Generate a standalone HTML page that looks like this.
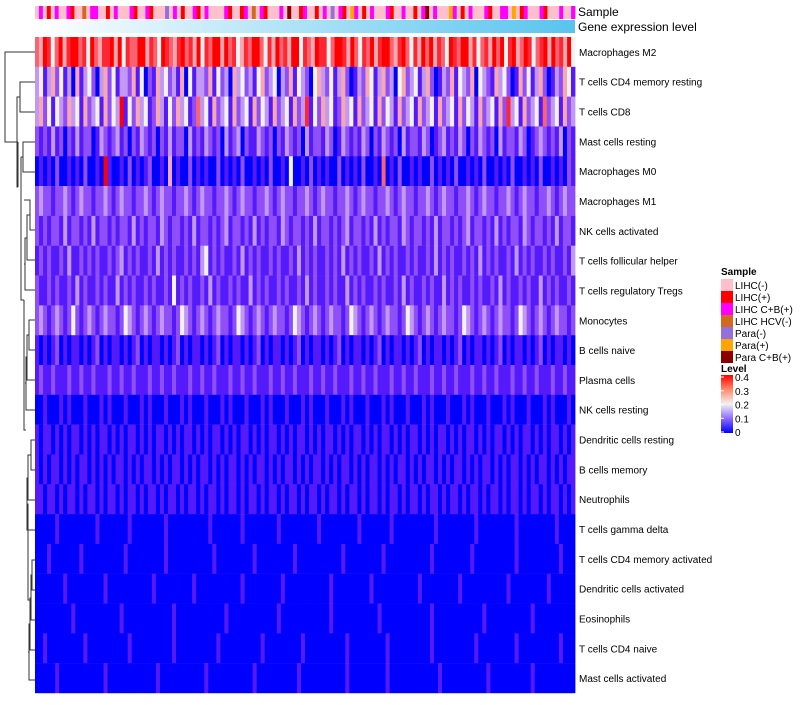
<!DOCTYPE html>
<html><head><meta charset="utf-8"><style>
body{margin:0;background:#fff;font-family:"Liberation Sans",sans-serif;}
svg text{font-family:"Liberation Sans",sans-serif;}
</style></head><body>
<svg id="c" width="800" height="700" xmlns="http://www.w3.org/2000/svg">
<defs>
<linearGradient id="gexp" x1="0" x2="1" y1="0" y2="0"><stop offset="0" stop-color="#ffffff"/><stop offset="1" stop-color="#58c4ee"/></linearGradient>
<linearGradient id="lvl" x1="0" x2="0" y1="1" y2="0"><stop offset="0" stop-color="#0000ff"/><stop offset="0.25" stop-color="#8c6cff"/><stop offset="0.5" stop-color="#f2f2f2"/><stop offset="0.75" stop-color="#ff8a6c"/><stop offset="1" stop-color="#ff0000"/></linearGradient>
</defs>
<g id="dend" stroke="#333" stroke-width="1" fill="none">
<path d="M35 52H5V142H18"/>
<path d="M35 82H20V112H35M20 97H17V187H18"/>
<path d="M35 142H23V172H35M23 157H21"/>
<path d="M21 157V300H24M24 200H30V230H35M30 215H27V260H35M27 238H25V290H35M25 264H24"/>
<path d="M24 300V430H26M35 320H29V350H35M29 335H27V380H35M27 357H26V410H35M26 383H25"/>
<path d="M35 440H31V470H35M31 455H28V500H35M28 478H27V530H35M27 504H28V600H30"/>
<path d="M35 560H32V590H35M32 575H31V620H35M31 598H30V650H35M30 624H29V680H35M29 652H28"/>
<path d="M18 142V187M17 97V142"/>
</g>
<g id="cells"></g>
<rect x="35" y="20" width="540" height="13" fill="url(#gexp)"/>
<text x="578" y="16" font-size="12">Sample</text>
<text x="578" y="31" font-size="12">Gene expression level</text>
<g id="labels" font-size="10"></g>
<g font-size="10">
<text x="721" y="275" font-weight="bold">Sample</text>
<g id="legitems"></g>
<text x="721" y="372" font-weight="bold">Level</text>
<rect x="721" y="375" width="12" height="58" fill="url(#lvl)"/>
<g id="lvlticks"></g>
</g>
</svg>
<script>
const rowNames=["Macrophages M2","T cells CD4 memory resting","T cells CD8","Mast cells resting","Macrophages M0","Macrophages M1","NK cells activated","T cells follicular helper","T cells regulatory  Tregs","Monocytes","B cells naive","Plasma cells","NK cells resting","Dendritic cells resting","B cells memory","Neutrophils","T cells gamma delta","T cells CD4 memory activated","Dendritic cells activated","Eosinophils","T cells CD4 naive","Mast cells activated"];
// digit 0-8 => level 0..0.4
const rowValues=[
"65874685788674865778584766885764876578675847688586745768864758675884765877468875864768578865786475868576487688574675868478568746785867584",
"34135241305134203524133251402153423150413325142305342314523403251432045324135201325413523045234135201325143250432153420152413520132541",
"35241432534152341524381425341253142534126341523415234152431523415237142534125341523415243152341523415234152431523415273415234162341523",
"21213120213122013212312021321202131220312132120312302113212021321203122132013212132021321203122132012312132021321203122132012321213021",
"01010200101020010810010201012001050100201010020101020010102001040010201010020101020010601020010100201010200101020010102001010200101021",
"23221223212322122321232212232123221223212322122321232212232123221223212322122321232212232123221223212322122321232212232123221223212322",
"21212213122121312212122131212213212212131221212312212131212213212212131221212312212131212213212212131221212312212131212213212212131221",
"12121121311212121121231212112131212112121341212112131212112121121312121121213121211213121211212112131212112121312121121312121121211213",
"21121211213121121211312121121211214121211213121121211312121121211213121121211312121121211213121121211312121121211213121121211312121121",
"23212321242123212322124321232123221243212321232212432123212322124321232123221243212321232212432123212322124321232123221243212321232212",
"10101201011010120101101012010110101201011010120101101012010110101201011010120101101012010110101201011010120101101012010110101201011010",
"12112111211211211121121121112112112111211211211121121121112112112111211211211121121121112112112111211211211121121121112112112111211211",
"00100010100010001010001000101000100010100010001010001000101000100010100010001010001000101000100010100010001010001000101000100010100010",
"10110101011010101101010110101011010101101010110101011010101101010110101011010101101010110101011010101101010110101011010101101010110101",
"10101101010110101010110101011010101101010110101011010101101010110101011010101101010110101011010101101010110101011010101101010110101011",
"11011010110101101011010110101101011010110101101011010110101101011010110101101011010110101101011010110101101011010110101101011010110101",
"00000100000000010000000100000000100000000001000000010000000010000000001000000000100000001000000000010000000001000000000100000000010000",
"00010000000100000000001000000000100000000000100000000010000000001000000000001000000000100000000000100000000010000000000100000000001000",
"00000001000000000100000000000100000000010000000000010000000001000000000001000000000100000000000100000000010000000000010000000001000000",
"00000000010000000000010000000000001000000000000100000000000010000000000001000000000001000000000000100000000000010000000000010000000000",
"00100000000010000000000100000000001000000000010000000000100000000010000000000100000000010000000000100000000001000000000100000000001000",
"00000100000000000100000000000010000000000010000000000010000000000100000000000100000000010000000000001000000000001000000000010000000000"
];
const sampleSeq="pmprpmppmrpphpmmpprpmpppmrppmrpppupmprppmrpmppppmrpprmphpmrpppmpdpprmpprpmpupmrpomprpmpppmrppmpprpmdpmpppomprpmpppmrppmmpoprmpppmrpppmppm";
const sampleKeys=["p","r","m","h","u","o","d"];
const sampleLabels=["LIHC(-)","LIHC(+)","LIHC C+B(+)","LIHC HCV(-)","Para(-)","Para(+)","Para C+B(+)"];
const sampleColors=["#ffc0cb","#ff0000","#ff00ff","#d2691e","#9370db","#ffa500","#8b0000"];
const levelTicks=[0,0.1,0.2,0.3,0.4];

const NS="http://www.w3.org/2000/svg";
const X0=35,X1=575,Y0=37,Y1=693,rowH=(Y1-Y0)/rowNames.length;
function lvColor(v){const t=Math.max(0,Math.min(1,v/0.4));let r,g,b;
 if(t<0.5){const u=t/0.5;r=242*Math.pow(u,0.75);g=242*Math.pow(u,1.6);b=255-13*u;}
 else{const u=(t-0.5)/0.5;r=242+13*Math.pow(u,0.5);g=242*Math.pow(1-u,1.3);b=242*Math.pow(1-u,1.1);}
 return`rgb(${r|0},${g|0},${b|0})`;}
function yScale(i){return Y0+i*rowH;}
const cells=document.getElementById('cells');
rowValues.forEach((s,i)=>{const n=s.length,w=(X1-X0)/n;
 for(let j=0;j<n;j++){const r=document.createElementNS(NS,'rect');
  r.setAttribute('x',X0+j*w);r.setAttribute('y',yScale(i));r.setAttribute('width',w+0.4);r.setAttribute('height',rowH+0.2);
  r.setAttribute('fill',lvColor(parseInt(s[j])*0.05));
  
  
  cells.appendChild(r);}
 const t=document.createElementNS(NS,'text');t.setAttribute('x',579);t.setAttribute('y',yScale(i)+rowH/2+4);t.textContent=rowNames[i];
 
 
 document.getElementById('labels').appendChild(t);});
{const n=sampleSeq.length,w=(X1-X0)/n;
 for(let j=0;j<n;j++){const r=document.createElementNS(NS,'rect');
  r.setAttribute('x',X0+j*w);r.setAttribute('y',6);r.setAttribute('width',w+0.4);r.setAttribute('height',13);
  r.setAttribute('fill',sampleColors[sampleKeys.indexOf(sampleSeq[j])]);
  
  
  cells.appendChild(r);}}
const li=document.getElementById('legitems');
sampleLabels.forEach((l,i)=>{const r=document.createElementNS(NS,'rect');
 r.setAttribute('x',721);r.setAttribute('y',279+i*12);r.setAttribute('width',12);r.setAttribute('height',12);r.setAttribute('fill',sampleColors[i]);
 
 
 li.appendChild(r);
 const t=document.createElementNS(NS,'text');t.setAttribute('x',735);t.setAttribute('y',289+i*12);t.textContent=l;
 
 
 li.appendChild(t);});
const lt=document.getElementById('lvlticks');
levelTicks.forEach(v=>{const y=432-(v/0.4)*55;
 const ln=document.createElementNS(NS,'line');ln.setAttribute('x1',721);ln.setAttribute('x2',724);ln.setAttribute('y1',y);ln.setAttribute('y2',y);ln.setAttribute('stroke','#fff');
 
 
 lt.appendChild(ln);
 const t=document.createElementNS(NS,'text');t.setAttribute('x',735);t.setAttribute('y',y+4);t.textContent=String(v);
 
 
 lt.appendChild(t);});
</script>
</body></html>
